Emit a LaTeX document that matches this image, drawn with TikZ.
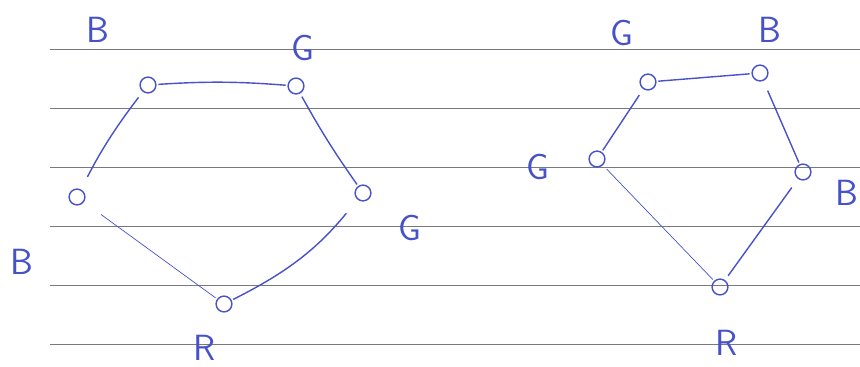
\documentclass[tikz,border=0pt]{standalone}
\usepackage{tikz}
\usetikzlibrary{arrows.meta,calc}
\definecolor{ink}{RGB}{72,82,200}
\definecolor{rule}{RGB}{120,120,128}

\begin{document}
\begin{tikzpicture}[x=0.02cm,y=-0.02cm,
    vert/.style={draw=ink,thick,circle,inner sep=0pt,minimum size=9pt},
    edge/.style={draw=ink,thick,shorten <=1pt,shorten >=1pt},
    every node/.style={font=\huge\sffamily,text=ink}]
    \useasboundingbox (0,0) rectangle (860,366);
    \foreach \y in {49,108,167,226,285,344}{\draw[rule,thin] (50,\y)--(860,\y);}
    % first colouring
    \node[vert] (a1) at (148,85) {}; \node at (98,30) {B};
    \node[vert] (a2) at (296,86) {}; \node at (303,48) {G};
    \node[vert] (a3) at (363,193) {}; \node at (410,228) {G};
    \node[vert] (a4) at (224,304) {}; \node at (205,348) {R};
    \node[vert] (a5) at (77,197) {}; \node at (22,262) {B};
    \draw[edge] (a1) to[bend left=4] (a2);
    \draw[edge,shorten <=2pt] (a2) to[bend right=3] (a3);
    \draw[edge,shorten <=10pt] (a3) to[bend left=12] (a4);
    \draw[edge,thin,shorten >=12pt] (a4)--(a5);
    \draw[edge,shorten <=8pt,shorten >=4pt] (a5) to[bend left=5] (a1);
    % second colouring
    \node[vert] (b1) at (648,82) {}; \node at (622,33) {G};
    \node[vert] (b2) at (760,73) {}; \node at (770,30) {B};
    \node[vert] (b3) at (803,172) {}; \node at (847,193) {B};
    \node[vert] (b4) at (720,287) {}; \node at (727,343) {R};
    \node[vert] (b5) at (597,159) {}; \node at (538,167) {G};
    \draw[edge] (b1)--(b2);
    \draw[edge,shorten <=6pt] (b2)--(b3);
    \draw[edge,shorten <=6pt,shorten >=3pt] (b3)--(b4);
    \draw[edge,thin,shorten >=3pt] (b4)--(b5);
    \draw[edge,shorten >=4pt] (b5)--(b1);
\end{tikzpicture}
\end{document}
